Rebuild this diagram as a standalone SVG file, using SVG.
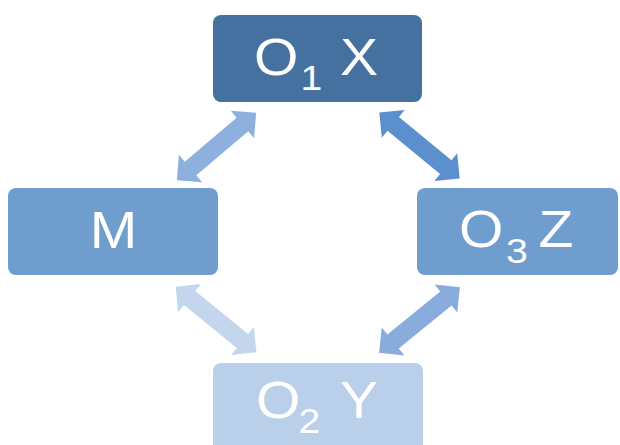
<svg xmlns="http://www.w3.org/2000/svg" width="620" height="445" viewBox="0 0 620 445">
<style>
.lbl{font-family:"Liberation Sans",Arial,sans-serif;font-size:51px;fill:#ffffff}
.sub{font-size:35px}
</style>
<defs>
<polygon id="dbl" points="-52,0 -34,-18 -34,-9 34,-9 34,-18 52,0 34,18 34,9 -34,9 -34,18"/>
</defs>
<rect width="620" height="445" fill="#ffffff"/>
<g id="connectors">
<use href="#dbl" fill="#8db0de" transform="translate(216.5,146.5) rotate(-40.3)"/>
<use href="#dbl" fill="#5b8fcd" transform="translate(419.5,145.5) rotate(39.4)"/>
<use href="#dbl" fill="#c4d6ee" transform="translate(216,319.5) rotate(39)"/>
<use href="#dbl" fill="#88acdb" transform="translate(419.5,320) rotate(-39)"/>
</g>
<g id="o1x">
<rect x="213" y="15" width="209" height="87" rx="8" fill="#44719f"/>
<text class="lbl" transform="scale(1.12,1)"><tspan x="226.8" y="75">O</tspan><tspan class="sub" x="268.3" y="90">1 </tspan><tspan x="303.6" y="75">X</tspan></text>
</g>
<g id="m">
<rect x="8" y="188" width="210" height="87" rx="8" fill="#6f9dce"/>
<text class="lbl" transform="scale(1.12,1)" x="101.3" y="248" text-anchor="middle">M</text>
</g>
<g id="o3z">
<rect x="417" y="188" width="201" height="87" rx="8" fill="#6f9dce"/>
<text class="lbl" transform="scale(1.12,1)"><tspan x="409.8" y="247">O</tspan><tspan class="sub" x="451.8" y="263">3 </tspan><tspan x="480.9" y="247">Z</tspan></text>
</g>
<g id="o2y">
<rect x="213" y="363" width="210" height="95" rx="8" fill="#bacfe9"/>
<text class="lbl" transform="scale(1.12,1)"><tspan x="228.6" y="418">O</tspan><tspan class="sub" x="266.5" y="433">2 </tspan><tspan x="303.6" y="418">Y</tspan></text>
</g>
</svg>
